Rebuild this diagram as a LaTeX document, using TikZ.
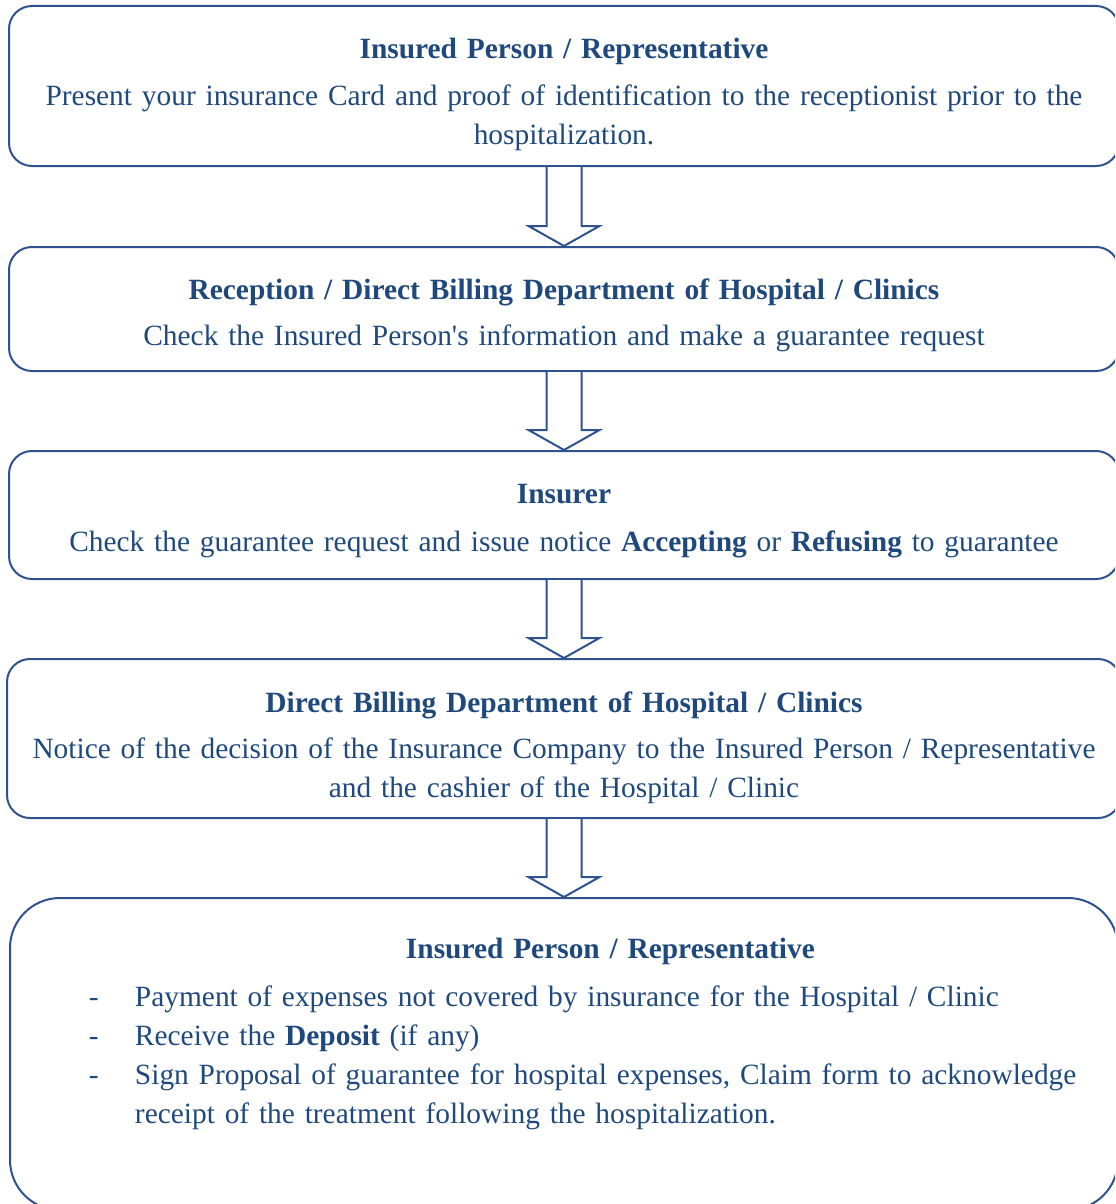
\documentclass[tikz,border=0pt]{standalone}
\usepackage{fontspec}
\setmainfont{Liberation Serif}[Ligatures=TeXOff]
\usetikzlibrary{calc}
\definecolor{textblue}{HTML}{1F497D}
\definecolor{lineblue}{HTML}{2F528F}

\begin{document}
\begin{tikzpicture}[x=0.5pt, y=-0.5pt,
  step box/.style={draw=lineblue, line width=1pt, rounded corners=11.5pt, text=textblue,
    anchor=north, inner sep=0pt, font=\fontsize{14.7}{19.5}\selectfont},
  flow arrow/.style={draw=lineblue, line width=1pt, fill=white, line join=miter}]
\useasboundingbox (0,0) rectangle (1115,1204);
\clip (0,0) rectangle (1115,1204);
\node[step box, text width=555pt, align=center, text height=26.5pt, text depth=53.5pt] (b1) at (564,5)
  {\textbf{Insured Person / Representative}\\[4pt]
   Present your insurance Card and proof of identification to the receptionist prior to the\\
   hospitalization.};
\node[step box, text width=555pt, align=center, text height=26pt, text depth=36pt] (b2) at (564,246)
  {\textbf{Reception / Direct Billing Department of Hospital / Clinics}\\[3.5pt]
   Check the Insured Person's information and make a guarantee request};
\node[step box, text width=555pt, align=center, text height=26pt, text depth=38pt] (b3) at (564,450)
  {\textbf{Insurer}\\[4.5pt]
   Check the guarantee request and issue notice \textbf{Accepting} or \textbf{Refusing} to guarantee};
\node[step box, text width=557pt, align=center, text height=26.5pt, text depth=53pt] (b4) at (564,658)
  {\textbf{Direct Billing Department of Hospital / Clinics}\\[3.5pt]
   Notice of the decision of the Insurance Company to the Insured Person / Representative\\
   and the cashier of the Hospital / Clinic};
\node[step box, rounded corners=25pt, text width=554pt, align=left, text height=30pt, text depth=126pt] (b5) at (564,897)
  {\hspace*{198pt}\textbf{Insured Person / Representative}\\[4.5pt]
   \hspace*{39.5pt}\makebox[23pt][l]{-}Payment of expenses not covered by insurance for the Hospital / Clinic\\
   \hspace*{39.5pt}\makebox[23pt][l]{-}Receive the \textbf{Deposit} (if any)\\
   \hspace*{39.5pt}\makebox[23pt][l]{-}Sign Proposal of guarantee for hospital expenses, Claim form to acknowledge\\
   \hspace*{62.5pt}receipt of the treatment following the hospitalization.};
% Block arrows between the steps:
\foreach \a/\b in {b1/b2, b2/b3, b3/b4, b4/b5}
  \draw[flow arrow] ($(\a.south)+(-17.5,0)$) -- ($(\b.north)+(-17.5,-20)$) -- ($(\b.north)+(-35.5,-20)$)
    -- (\b.north) -- ($(\b.north)+(35.5,-20)$) -- ($(\b.north)+(17.5,-20)$) -- ($(\a.south)+(17.5,0)$);
\end{tikzpicture}
\end{document}
